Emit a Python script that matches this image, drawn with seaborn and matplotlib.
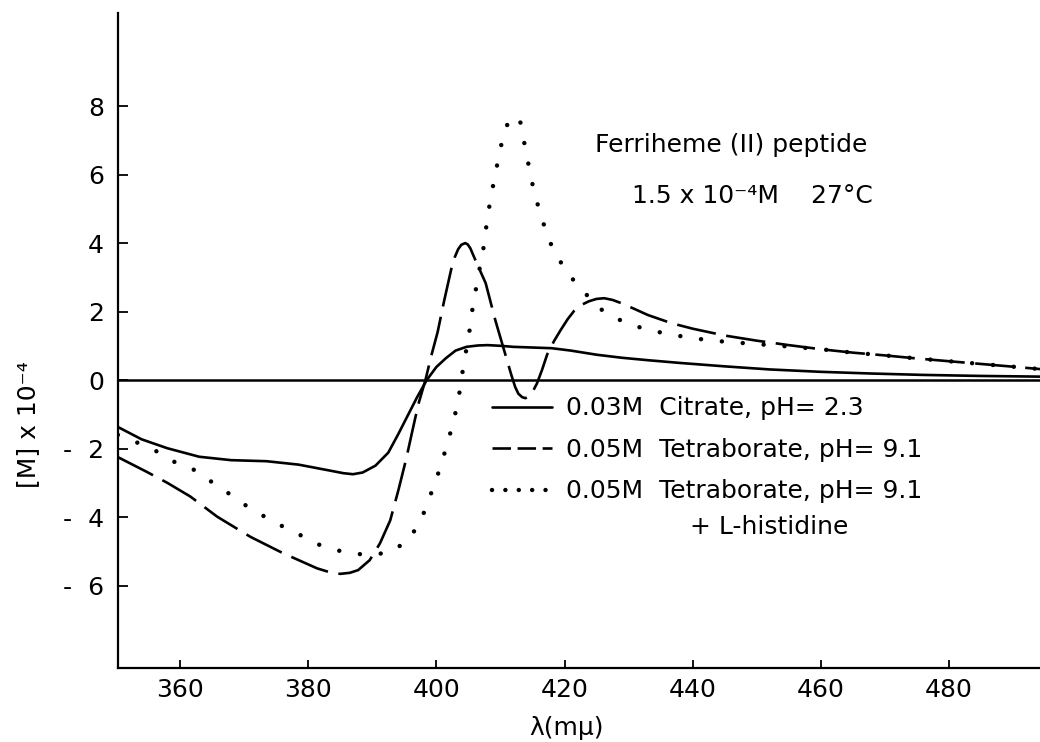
import numpy as np
import pandas as pd
import matplotlib
matplotlib.use("Agg")
import matplotlib.pyplot as plt
from matplotlib.lines import Line2D
import seaborn as sns

# Wavelength (m\u03bc) and molar ellipticity [M] x 10^-4
citrate_wl = [350.3, 354, 358, 363, 368, 373.5, 378.5, 383, 385.5, 387, 388.5,
              390.5, 392.5, 394, 395.5, 397, 398.5, 400, 401.5, 403, 404.7,
              406.5, 408, 410, 412, 415, 418, 421, 425, 429, 433, 438, 445,
              452, 460, 468, 476, 485, 494.2]
citrate_val = [-1.37, -1.73, -1.99, -2.24, -2.34, -2.37, -2.47, -2.63, -2.72,
               -2.75, -2.70, -2.50, -2.12, -1.60, -1.05, -0.50, 0.0, 0.38,
               0.64, 0.86, 0.97, 1.01, 1.02, 1.00, 0.97, 0.95, 0.93, 0.86,
               0.74, 0.65, 0.58, 0.50, 0.40, 0.31, 0.24, 0.19, 0.15, 0.12,
               0.10]

borate_wl = [350.3, 354.8, 358, 361.6, 365.8, 371, 376, 381.4, 383.5, 385,
             386.5, 387.8, 389.6, 391.2, 392.8, 394.1, 395.3, 396.3, 397.2,
             398.3, 399.2, 400.2, 401.2, 402.4, 402.9, 403.4, 403.9, 404.5,
             404.9, 405.3, 406.1, 407.7, 409.2, 410.7, 411.7, 412.3, 412.8,
             413.4, 413.9, 414.5, 415, 415.7, 416.5, 417.3, 418.4, 419.4,
             420.5, 421.5, 422.7, 423.8, 425, 426.2, 427.5, 428.8, 431, 433,
             436.7, 440, 445, 450, 455, 460, 465, 470, 475, 480, 485, 490,
             494.2]
borate_val = [-2.25, -2.68, -3.0, -3.4, -3.99, -4.58, -5.05, -5.5, -5.62,
              -5.66, -5.63, -5.55, -5.26, -4.77, -4.1, -3.2, -2.3, -1.45,
              -0.7, 0.0, 0.7, 1.4, 2.3, 3.3, 3.6, 3.82, 3.95, 4.0, 3.96, 3.85,
              3.5, 2.83, 1.75, 0.79, 0.15, -0.2, -0.4, -0.5, -0.53, -0.47,
              -0.35, -0.1, 0.3, 0.75, 1.15, 1.46, 1.78, 2.02, 2.2, 2.3, 2.37,
              2.39, 2.34, 2.25, 2.07, 1.9, 1.66, 1.5, 1.3, 1.15, 1.02, 0.9,
              0.8, 0.72, 0.63, 0.55, 0.47, 0.39, 0.32]

histidine_wl = [350.3, 354.3, 357, 359, 362, 364.5, 366.8, 369.3, 372.1, 375,
                378.2, 381.4, 384.7, 387.5, 390.4, 393.2, 396, 398, 400,
                401.5, 402.7, 403.5, 404.2, 405.1, 405.7, 406.6, 407.4, 407.9,
                408.5, 409.3, 409.9, 410.7, 411.3, 411.8, 412.4, 413.2, 413.7,
                414.3, 415.1, 416.0, 417.1, 418.3, 420.1, 422.2, 426.1, 429.0,
                432.5, 435.5, 440, 445, 450, 455, 460, 465, 470, 475, 480,
                485, 490, 494.2]
histidine_val = [-1.6, -1.9, -2.14, -2.38, -2.6, -2.92, -3.2, -3.55, -3.87,
                 -4.18, -4.47, -4.79, -4.98, -5.08, -5.1, -5.0, -4.6, -3.9,
                 -2.9, -2.0, -1.2, -0.5, 0.38, 1.34, 2.16, 3.1, 3.9, 4.64,
                 5.34, 6.1, 6.69, 7.3, 7.55, 7.68, 7.7, 7.5, 6.95, 6.37, 5.63,
                 5.0, 4.35, 3.77, 3.24, 2.72, 2.0, 1.72, 1.49, 1.37, 1.22,
                 1.12, 1.05, 0.98, 0.9, 0.8, 0.72, 0.63, 0.55, 0.47, 0.39,
                 0.32]

legend_labels = ["0.03M  Citrate, pH= 2.3",
                 "0.05M  Tetraborate, pH= 9.1",
                 "0.05M  Tetraborate, pH= 9.1"]
x_ticks = [360, 380, 400, 420, 440, 460, 480]
y_ticks = [-6, -4, -2, 0, 2, 4, 6, 8]
y_ticklabels = ["-  6", "-  4", "-  2", "0", "2", "4", "6", "8"]

sns.set_style("ticks")
plt.rcParams["font.family"] = ["DejaVu Sans"]
ink = "black"
for key in ["text.color", "axes.labelcolor", "xtick.color", "ytick.color",
            "axes.edgecolor"]:
    plt.rcParams[key] = ink

fig = plt.figure(figsize=(10.4, 7.42), dpi=100)
ax = fig.add_axes([0.1135, 0.0997, 0.8865, 0.8828])

lw = 1.9
fs = 18
df_c = pd.DataFrame({"wl": citrate_wl, "m": citrate_val})
df_b = pd.DataFrame({"wl": borate_wl, "m": borate_val})
df_h = pd.DataFrame({"wl": histidine_wl, "m": histidine_val})

sns.lineplot(data=df_c, x="wl", y="m", ax=ax, color=ink, lw=lw,
             estimator=None, legend=False)
sns.lineplot(data=df_b, x="wl", y="m", ax=ax, color=ink, lw=lw,
             estimator=None, legend=False)
ax.lines[-1].set_dashes([15, 4])
sns.lineplot(data=df_h, x="wl", y="m", ax=ax, color=ink, lw=3.2,
             estimator=None, legend=False)
dot_line = ax.lines[-1]
dot_line.set_linestyle((0, (0.01, 4.7)))
dot_line.set_dash_capstyle("round")

ax.axhline(0, color=ink, lw=1.8)

ax.set_xlim(350.33, 494.2)
ax.set_ylim(-8.41, 10.72)
ax.set_xticks(x_ticks)
ax.set_xticklabels([str(t) for t in x_ticks])
ax.set_yticks(y_ticks)
ax.set_yticklabels(y_ticklabels)

ax.tick_params(axis="x", direction="in", length=6, width=1.3, pad=7,
               labelsize=fs)
ax.tick_params(axis="y", direction="in", length=7, width=1.3, pad=10,
               labelsize=fs)
for side in ["top", "right"]:
    ax.spines[side].set_visible(False)
for side in ["left", "bottom"]:
    ax.spines[side].set_linewidth(1.6)

ax.set_xlabel("\u03bb(m\u03bc)", fontsize=fs)
ax.set_ylabel("[M] x 10\u207b\u2074", fontsize=fs)
ax.xaxis.set_label_coords(0.486, -0.074)
ax.yaxis.set_label_coords(-0.085, 0.371)

ax.text(0.517, 0.798, "Ferriheme (II) peptide", transform=ax.transAxes,
        fontsize=fs, va="center", ha="left")
ax.text(0.557, 0.721, "1.5 x 10\u207b\u2074M    27\u00b0C", transform=ax.transAxes,
        fontsize=fs, va="center", ha="left")

handles = [
    Line2D([], [], color=ink, lw=lw),
    Line2D([], [], color=ink, lw=lw, dashes=[7, 2.5]),
    Line2D([], [], color=ink, lw=3.2, linestyle=(0, (0.01, 3.0)),
           dash_capstyle="round"),
]
ax.legend(handles, legend_labels, loc="upper left",
          bbox_to_anchor=(0.395, 0.43), frameon=False, fontsize=fs,
          handlelength=2.4, handletextpad=0.55, labelspacing=0.7,
          borderaxespad=0)
ax.text(0.62, 0.215, "+ L-histidine", transform=ax.transAxes,
        fontsize=fs, va="center", ha="left")

fig.savefig("out.png", dpi=100)
